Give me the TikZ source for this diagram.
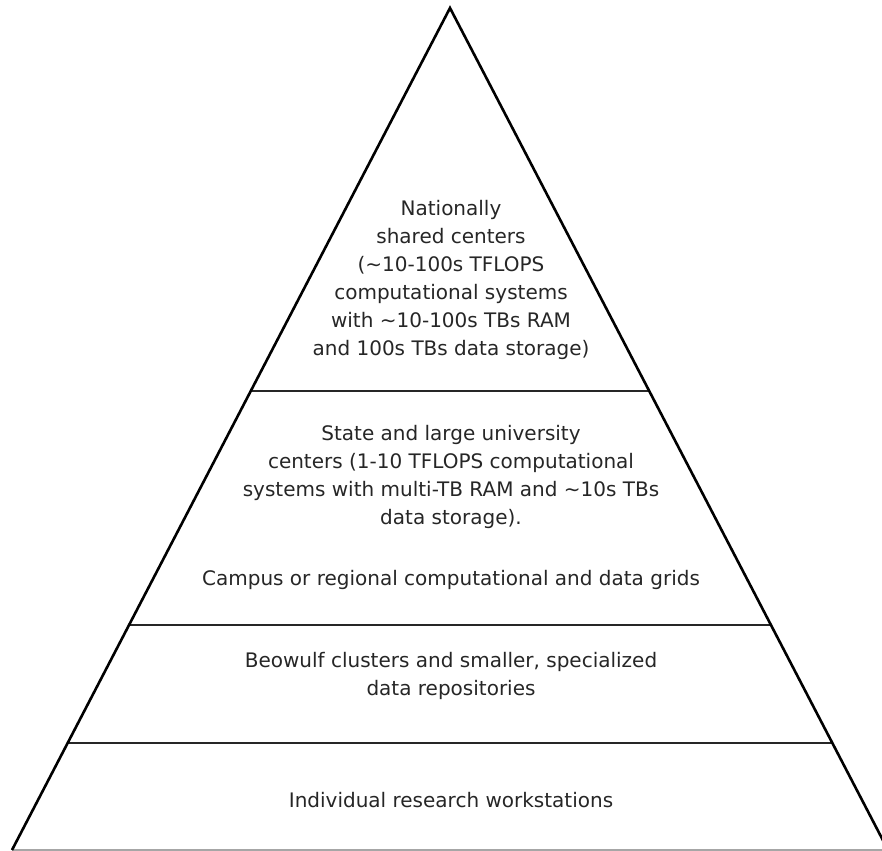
\documentclass[tikz,border=0pt]{standalone}
\usepackage{fontspec}
\setmainfont{DejaVu Sans}
\usetikzlibrary{calc}
\tikzset{
  side/.style={line width=2.6bp, black, line join=miter},
  divider/.style={line width=2.6bp, black!85},
  label/.style={align=center, text=black!85, inner sep=0pt,
    font=\fontsize{20bp}{28bp}\selectfont},
}
\begin{document}
\begin{tikzpicture}[x=1bp,y=-1bp]
\useasboundingbox (0,0) rectangle (882,851);
\clip (0,0) rectangle (882,851);
\coordinate (A) at (450,8);
\coordinate (L) at (12,850);
\coordinate (R) at (888,850);
% dividers
\foreach \f/\n in {0.4549/a,0.7328/b,0.8729/c}{
  \coordinate (l\n) at ($(A)!\f!(L)$);
  \coordinate (r\n) at ($(A)!\f!(R)$);
  \draw[divider] (l\n) -- (r\n);
}
\draw[line width=2bp, black!35] (L) -- (R);
\draw[side] (L) -- (A) -- (R);
% labels
\node[label] (t1) at (451,280) {Nationally\\shared centers\\(\textasciitilde10-100s TFLOPS\\computational systems\\with \textasciitilde10-100s TBs RAM\\and 100s TBs data storage)};
\node[label] (t2) at (451,477) {State and large university\\centers (1-10 TFLOPS computational\\systems with multi-TB RAM and \textasciitilde10s TBs\\data storage).};
\node[label] (t3) at (451,580) {Campus or regional computational and data grids};
\node[label] (t4) at (451,676) {Beowulf clusters and smaller, specialized\\data repositories};
\node[label] (t5) at (451,800) {Individual research workstations};
\end{tikzpicture}
\end{document}
